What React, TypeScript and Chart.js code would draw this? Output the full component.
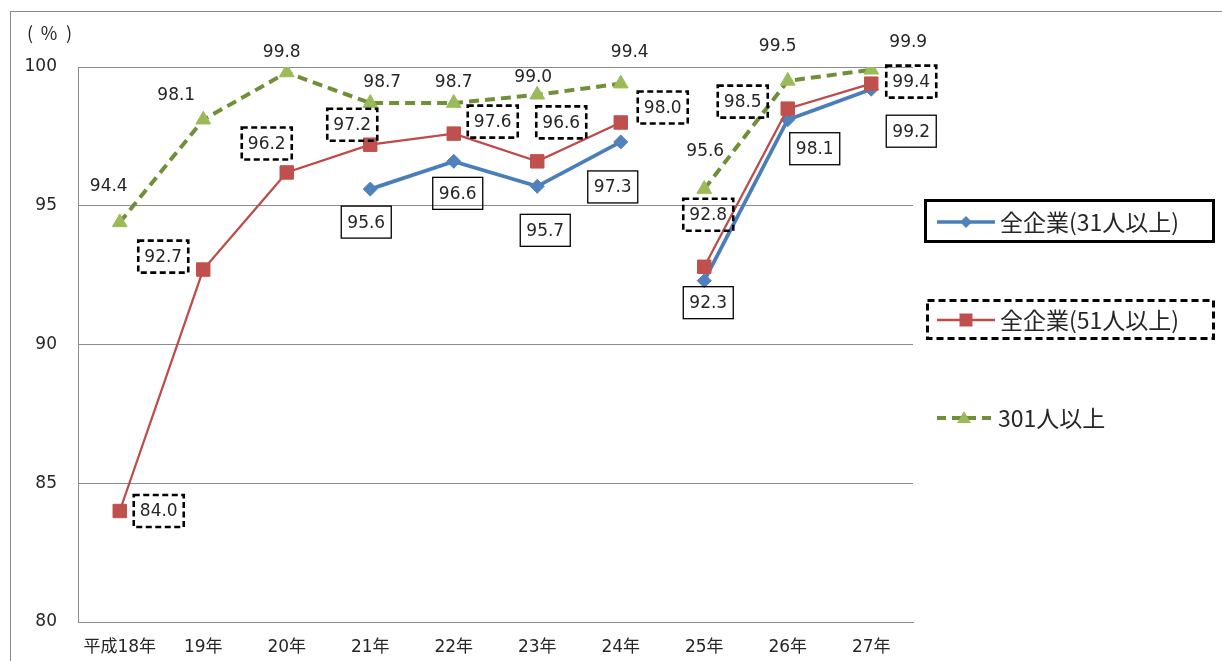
import { useEffect, useRef } from "react";
import { Chart, registerables } from "chart.js";

Chart.register(...registerables);

// ---- data ----
const CATEGORIES = ["平成18年", "19年", "20年", "21年", "22年", "23年", "24年", "25年", "26年", "27年"];
const SERIES_NAMES = ["全企業(31人以上)", "全企業(51人以上)", "301人以上"];
const ALL_31 = [null, null, null, 95.6, 96.6, 95.7, 97.3, 92.3, 98.1, 99.2];
const ALL_51 = [84.0, 92.7, 96.2, 97.2, 97.6, 96.6, 98.0, 92.8, 98.5, 99.4];
const OVER_301 = [94.4, 98.1, 99.8, 98.7, 98.7, 99.0, 99.4, 95.6, 99.5, 99.9];
const Y_TICKS = [80, 85, 90, 95, 100];
const Y_UNIT = ["(", "%", ")"];
const BREAK_AFTER = "24年"; // lines are not joined between 24年 and 25年

// ---- layout / style (not data) ----
const LABEL_OFFSETS = [
  [null, null, null, [-4, 33], [4, 32], [8, 44], [-8, 45], [4, 22], [27, 29], [40, 42]],
  [[39, 0], [-40, -13], [-20, -29], [-18, -20], [39, -12], [24, -39], [42, -15], [4, -52], [-45, -7], [40, -2]],
  [[-11, -37], [-27, -25], [-5, -21], [12, -21], [0, -21], [-4, -18], [9, -32], [1, -39], [-10, -35], [37, -28]],
];
const LABEL_BOX = ["solid", "dashed", "none"];
const FONT_FAMILY = '"DejaVu Sans", "Noto Sans CJK JP", sans-serif';
const CJK_FAMILY = '"Noto Sans CJK JP", "DejaVu Sans", sans-serif';
const TEXT_COLOR = "#262626";
const GRID_COLOR = "#8c8c8c";
const BLUE = "#4A7EBB", BLUE_M = "#4F81BD";
const RED = "#BE4B48", RED_M = "#C0504D";
const GREEN = "#718E38", GREEN_M = "#9BBB59";

const breakIndex = CATEGORIES.indexOf(BREAK_AFTER);

function diamond(ctx: CanvasRenderingContext2D, x: number, y: number, r: number, fill: string) {
  ctx.beginPath();
  ctx.moveTo(x, y - r);
  ctx.lineTo(x + r, y);
  ctx.lineTo(x, y + r);
  ctx.lineTo(x - r, y);
  ctx.closePath();
  ctx.fillStyle = fill;
  ctx.fill();
}
function square(ctx: CanvasRenderingContext2D, x: number, y: number, s: number, fill: string) {
  ctx.fillStyle = fill;
  ctx.fillRect(x - s / 2, y - s / 2, s, s);
}
function triangle(ctx: CanvasRenderingContext2D, x: number, y: number, r: number, fill: string) {
  ctx.beginPath();
  ctx.moveTo(x, y - r);
  ctx.lineTo(x + r * 0.866, y + r * 0.5);
  ctx.lineTo(x - r * 0.866, y + r * 0.5);
  ctx.closePath();
  ctx.fillStyle = fill;
  ctx.fill();
}

const framePlugin = {
  id: "frame",
  beforeDraw(chart: any) {
    const ctx = chart.ctx as CanvasRenderingContext2D;
    ctx.save();
    ctx.fillStyle = "#fff";
    ctx.fillRect(0, 0, chart.width, chart.height);
    ctx.strokeStyle = "#8a8a8a";
    ctx.lineWidth = 1;
    ctx.strokeRect(10.5, 11.5, chart.width + 20, chart.height + 20);
    ctx.fillStyle = TEXT_COLOR;
    ctx.font = `18px ${CJK_FAMILY}`;
    ctx.textBaseline = "middle";
    ctx.textAlign = "left";
    ctx.fillText(Y_UNIT[0], 27, 33);
    ctx.textAlign = "center";
    ctx.fillText(Y_UNIT[1], 49, 33);
    ctx.textAlign = "right";
    ctx.fillText(Y_UNIT[2], 72, 33);
    ctx.restore();
  },
};

const labelPlugin = {
  id: "valueLabels",
  afterDatasetsDraw(chart: any) {
    const ctx = chart.ctx as CanvasRenderingContext2D;
    const W = 50, H = 32;
    chart.data.datasets.forEach((ds: any, di: number) => {
      const meta = chart.getDatasetMeta(di);
      meta.data.forEach((pt: any, i: number) => {
        const v = ds.data[i];
        const off = LABEL_OFFSETS[di][i];
        if (v == null || !off) return;
        const cx = pt.x + off[0];
        const cy = pt.y + off[1];
        ctx.save();
        const box = LABEL_BOX[di];
        if (box !== "none") {
          ctx.strokeStyle = "#000";
          if (box === "dashed") {
            ctx.lineWidth = 2.6;
            ctx.setLineDash([6, 3.5]);
          } else {
            ctx.lineWidth = 1.3;
            ctx.setLineDash([]);
          }
          ctx.strokeRect(cx - W / 2, cy - H / 2, W, H);
        }
        ctx.font = `17px ${FONT_FAMILY}`;
        ctx.fillStyle = TEXT_COLOR;
        ctx.textAlign = "center";
        ctx.textBaseline = "middle";
        ctx.fillText(v.toFixed(1), cx, cy + 1);
        ctx.restore();
      });
    });
  },
};

const legendPlugin = {
  id: "customLegend",
  afterDraw(chart: any) {
    const ctx = chart.ctx as CanvasRenderingContext2D;
    ctx.save();
    // item 1
    ctx.strokeStyle = "#000";
    ctx.lineWidth = 3;
    ctx.setLineDash([]);
    ctx.strokeRect(925.5, 200.5, 288, 41);
    ctx.strokeStyle = BLUE;
    ctx.lineWidth = 3.5;
    ctx.beginPath();
    ctx.moveTo(937, 222);
    ctx.lineTo(995, 222);
    ctx.stroke();
    diamond(ctx, 966, 222, 6, BLUE_M);
    // item 2
    ctx.strokeStyle = "#000";
    ctx.lineWidth = 3;
    ctx.setLineDash([7, 4]);
    ctx.strokeRect(927.5, 300.5, 286, 38);
    ctx.setLineDash([]);
    ctx.strokeStyle = RED;
    ctx.lineWidth = 2.5;
    ctx.beginPath();
    ctx.moveTo(937, 320);
    ctx.lineTo(995, 320);
    ctx.stroke();
    square(ctx, 966, 320, 13, RED_M);
    // item 3
    ctx.strokeStyle = GREEN;
    ctx.lineWidth = 4;
    ctx.setLineDash([9, 6]);
    ctx.beginPath();
    ctx.moveTo(937, 418);
    ctx.lineTo(991, 418);
    ctx.stroke();
    ctx.setLineDash([]);
    triangle(ctx, 964, 419, 8, GREEN_M);
    // texts
    ctx.fillStyle = TEXT_COLOR;
    ctx.font = `23px ${CJK_FAMILY}`;
    ctx.textAlign = "left";
    ctx.textBaseline = "middle";
    ctx.fillText(SERIES_NAMES[0], 1000, 222);
    ctx.fillText(SERIES_NAMES[1], 1000, 320);
    ctx.fillText(SERIES_NAMES[2], 998, 418);
    ctx.restore();
  },
};

function gapSegment(color: string) {
  return {
    borderColor: (c: any) => (c.p0DataIndex === breakIndex ? "rgba(0,0,0,0)" : color),
  };
}

export default function App() {
  const ref = useRef<HTMLCanvasElement | null>(null);

  useEffect(() => {
    if (!ref.current) return;
    const chart = new Chart(ref.current, {
      type: "line",
      data: {
        labels: CATEGORIES,
        datasets: [
          {
            label: SERIES_NAMES[0],
            data: ALL_31,
            borderColor: BLUE,
            borderWidth: 3.75,
            pointStyle: "rectRot",
            pointRadius: 7,
            pointBackgroundColor: BLUE_M,
            pointBorderColor: BLUE_M,
            pointBorderWidth: 1,
            spanGaps: false,
            tension: 0,
            order: 3,
            segment: gapSegment(BLUE),
          },
          {
            label: SERIES_NAMES[1],
            data: ALL_51,
            borderColor: RED,
            borderWidth: 2.25,
            pointStyle: "rect",
            pointRadius: 9.5,
            pointBackgroundColor: RED_M,
            pointBorderColor: RED_M,
            pointBorderWidth: 1,
            tension: 0,
            order: 2,
            segment: gapSegment(RED),
          },
          {
            label: SERIES_NAMES[2],
            data: OVER_301,
            borderColor: GREEN,
            borderWidth: 4,
            borderDash: [10, 6],
            pointStyle: "triangle",
            pointRadius: 8.5,
            pointBackgroundColor: GREEN_M,
            pointBorderColor: GREEN_M,
            pointBorderWidth: 1,
            tension: 0,
            order: 1,
            segment: gapSegment(GREEN),
          },
        ] as any,
      },
      options: {
        responsive: false,
        animation: false,
        events: [],
        layout: { padding: { top: 67, right: 309, bottom: 0, left: 0 } },
        plugins: {
          legend: { display: false },
          tooltip: { enabled: false },
        },
        scales: {
          x: {
            type: "category",
            offset: true,
            grid: { display: false, drawTicks: false },
            border: { display: true, color: GRID_COLOR, width: 1 },
            ticks: {
              color: TEXT_COLOR,
              font: { family: FONT_FAMILY, size: 17 },
              padding: 15,
              maxRotation: 0,
              autoSkip: false,
            },
            afterFit: (s: any) => {
              s.height = 39;
            },
          },
          y: {
            min: Y_TICKS[0],
            max: Y_TICKS[Y_TICKS.length - 1],
            grid: { color: GRID_COLOR, lineWidth: 1, drawTicks: false },
            border: { display: true, color: GRID_COLOR, width: 1 },
            ticks: {
              color: TEXT_COLOR,
              font: { family: FONT_FAMILY, size: 17 },
              padding: 21,
            },
            afterBuildTicks: (s: any) => {
              s.ticks = Y_TICKS.map((v) => ({ value: v }));
            },
            afterFit: (s: any) => {
              s.width = 78;
            },
          },
        },
      } as any,
      plugins: [framePlugin, labelPlugin, legendPlugin],
    });
    return () => chart.destroy();
  }, []);

  return (
    <div style={{ position: "fixed", left: 0, top: 0, width: 1222, height: 661, background: "#fff" }}>
      <canvas ref={ref} width={1222} height={661} style={{ width: 1222, height: 661, display: "block" }} />
    </div>
  );
}
